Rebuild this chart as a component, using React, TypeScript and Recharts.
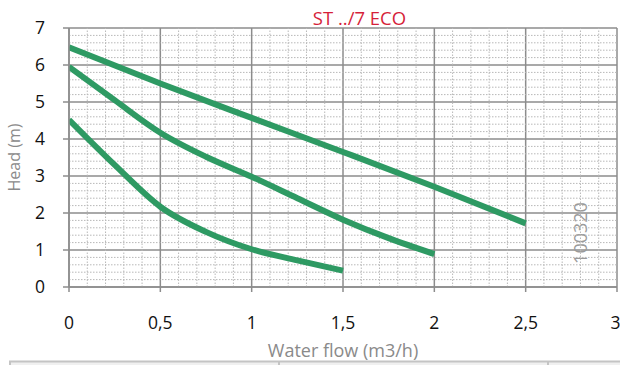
import React from 'react';
import { LineChart, Line, XAxis, YAxis, CartesianGrid, ReferenceLine } from 'recharts';

const flowTicks = [0, 0.5, 1, 1.5, 2, 2.5, 3];
const headTicks = [0, 1, 2, 3, 4, 5, 6, 7];
const minorFlowTicks = [0.1, 0.2, 0.3, 0.4, 0.6, 0.7, 0.8, 0.9, 1.1, 1.2, 1.3, 1.4, 1.6, 1.7, 1.8, 1.9, 2.1, 2.2, 2.3, 2.4, 2.6, 2.7, 2.8, 2.9];
const minorHeadTicks = [0.2, 0.4, 0.6, 0.8, 1.2, 1.4, 1.6, 1.8, 2.2, 2.4, 2.6, 2.8, 3.2, 3.4, 3.6, 3.8, 4.2, 4.4, 4.6, 4.8, 5.2, 5.4, 5.6, 5.8, 6.2, 6.4, 6.6, 6.8];

const speed3 = [
  { q: 0, h: 6.48 },
  { q: 0.5, h: 5.5 },
  { q: 1, h: 4.57 },
  { q: 1.5, h: 3.65 },
  { q: 2, h: 2.71 },
  { q: 2.5, h: 1.72 },
];
const speed2 = [
  { q: 0, h: 5.95 },
  { q: 0.25, h: 5.05 },
  { q: 0.5, h: 4.17 },
  { q: 0.75, h: 3.52 },
  { q: 1, h: 2.98 },
  { q: 1.25, h: 2.4 },
  { q: 1.5, h: 1.82 },
  { q: 1.75, h: 1.32 },
  { q: 2, h: 0.89 },
];
const speed1 = [
  { q: 0, h: 4.52 },
  { q: 0.25, h: 3.3 },
  { q: 0.5, h: 2.17 },
  { q: 0.75, h: 1.49 },
  { q: 1, h: 1.02 },
  { q: 1.25, h: 0.72 },
  { q: 1.5, h: 0.44 },
];

const FONT = '"Open Sans", sans-serif';
const GREEN = '#2e9a63';
const MINOR = '#b8b8b8';
const fmt = (v: number) => String(v).replace('.', ',');

export default function App() {
  return (
    <div style={{ position: 'absolute', left: 0, top: 0, width: 620, height: 365, background: '#fff' }}>
      <LineChart width={620} height={365} margin={{ top: 28, right: 3, left: 0, bottom: 0 }}>
        {minorFlowTicks.map((v) => (
          <ReferenceLine key={'mx' + v} x={v} stroke={MINOR} strokeDasharray="1.5 1.5" strokeWidth={1} />
        ))}
        {minorHeadTicks.map((v) => (
          <ReferenceLine key={'my' + v} y={v} stroke={MINOR} strokeDasharray="1.5 1.5" strokeWidth={1} />
        ))}
        <CartesianGrid stroke="#8c8c8c" strokeWidth={1.5} />
        <XAxis
          type="number"
          dataKey="q"
          domain={[0, 3]}
          ticks={flowTicks}
          tickFormatter={fmt}
          height={78}
          tickSize={5}
          tickMargin={25}
          axisLine={{ stroke: '#8c8c8c', strokeWidth: 1.5 }}
          tickLine={{ stroke: '#8c8c8c', strokeWidth: 1.5 }}
          tick={{ fill: '#111', fontSize: 17.5, fontFamily: FONT }}
          label={{ value: 'Water flow (m3/h)', position: 'insideBottom', offset: 8, fill: '#8a8a8a', fontSize: 18, fontFamily: FONT }}
          allowDataOverflow
        />
        <YAxis
          type="number"
          domain={[0, 7]}
          ticks={headTicks}
          width={69}
          tickSize={6}
          tickMargin={18}
          axisLine={{ stroke: '#8c8c8c', strokeWidth: 1.5 }}
          tickLine={{ stroke: '#8c8c8c', strokeWidth: 1.5 }}
          tick={{ fill: '#111', fontSize: 17.5, fontFamily: FONT }}
          label={{ value: 'Head (m)', angle: -90, position: 'insideLeft', offset: 14, fill: '#8a8a8a', fontSize: 16, fontFamily: FONT, style: { textAnchor: 'middle' } }}
        />
        <Line data={speed1} dataKey="h" type="monotone" stroke={GREEN} strokeWidth={6} dot={false} isAnimationActive={false} />
        <Line data={speed2} dataKey="h" type="monotone" stroke={GREEN} strokeWidth={6} dot={false} isAnimationActive={false} />
        <Line data={speed3} dataKey="h" type="monotone" stroke={GREEN} strokeWidth={6} dot={false} isAnimationActive={false} />
        <text x={359.5} y={25} textAnchor="middle" fill="#d61f3a" fontSize={18.5} fontFamily={FONT}>ST ../7 ECO</text>
        <text x={580} y={233} textAnchor="middle" dominantBaseline="central" transform="rotate(-90 580 233)" fill="#9a9a9a" fontSize={18} fontFamily={FONT}>100320</text>
        <rect x={10} y={361.5} width={612} height={10} fill="#f0f0f0" stroke="#c4c4c4" strokeWidth={2} />
        <line x1={279} y1={361} x2={279} y2={365} stroke="#c4c4c4" strokeWidth={2} />
        <line x1={548} y1={361} x2={548} y2={365} stroke="#c4c4c4" strokeWidth={2} />
      </LineChart>
    </div>
  );
}
